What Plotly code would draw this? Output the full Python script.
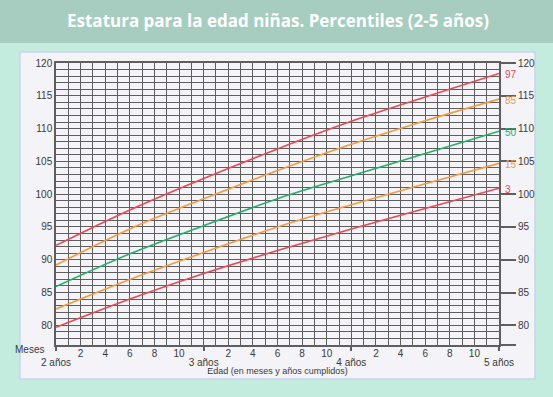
import plotly.graph_objects as go

months = [0, 6, 12, 18, 24, 30, 36]
p97 = [92.2, 97.6, 102.4, 106.9, 111.1, 114.8, 118.4]
p85 = [89.2, 94.7, 99.3, 103.6, 107.6, 111.2, 114.5]
p50 = [85.9, 90.9, 95.2, 99.3, 102.8, 106.2, 109.6]
p15 = [82.5, 87.0, 91.1, 95.0, 98.4, 101.6, 104.7]
p3 = [79.7, 84.0, 87.9, 91.4, 94.7, 97.8, 100.9]

series_names = ["97", "85", "50", "15", "3"]
series_vals = [p97, p85, p50, p15, p3]
series_colors = ["#e84a55", "#f29a45", "#26ad6a", "#f29a45", "#e84a55"]

month_ticks = list(range(0, 37))
month_text = ["" if (m % 12 == 0 or m % 2 == 1) else str(m % 12) for m in month_ticks]
year_ticks = [0, 12, 24, 36]
year_text = ["2 años", "3 años", "4 años", "5 años"]
cm_ticks = list(range(77, 121))
cm_text = [str(v) if v % 5 == 0 else "" for v in cm_ticks]
right_ticks = [77] + list(range(80, 121, 5))
right_text = [""] + [str(v) for v in range(80, 121, 5)]

FONT = "Liberation Sans Narrow, Liberation Sans, Arial Narrow, sans-serif"
GRID = "#5e5e5e"
TXT = "#3a3a3a"

fig = go.Figure()
for name, vals, col in zip(series_names, series_vals, series_colors):
    fig.add_trace(go.Scatter(x=months, y=vals, mode="lines", line=dict(color=col, width=1.6, shape="spline"),
                             showlegend=False, hoverinfo="skip"))
    fig.add_annotation(x=months[-1], y=vals[-1], text=name, showarrow=False, xanchor="left",
                       yanchor="middle", xshift=4, yshift=-1, font=dict(family=FONT, size=10, color=col))

fig.add_trace(go.Scatter(x=[0], y=[77], xaxis="x2", yaxis="y2", mode="markers",
                         marker=dict(opacity=0), showlegend=False, hoverinfo="skip"))

W, H = 553, 397
L, R, T, B = 56, 54, 63, 52
pw, ph = W - L - R, H - T - B


def px(x):
    return (x - L) / pw


def py(y):
    return (H - B - y) / ph


fig.add_shape(type="rect", xref="paper", yref="paper", x0=px(20), x1=px(535), y0=py(379), y1=py(52),
              fillcolor="#f3f3f8", line=dict(color="#c9d3ea", width=1.5), layer="below")
fig.add_shape(type="rect", xref="paper", yref="paper", x0=px(-5), x1=px(560), y0=py(43), y1=py(-5),
              fillcolor="#a6cdbf", line=dict(width=0), layer="below")

fig.add_annotation(xref="paper", yref="paper", x=px(46), y=py(349), text="Meses", showarrow=False,
                   xanchor="right", yanchor="middle", font=dict(family=FONT, size=10, color=TXT))

fig.update_layout(
    width=W, height=H,
    margin=dict(l=L, r=R, t=T, b=B, autoexpand=False),
    paper_bgcolor="#c3ecdf",
    plot_bgcolor="#f3f3f8",
    title=dict(text="<b>Estatura para la edad niñas. Percentiles (2-5 años)</b>", x=278 / W, xanchor="center",
               y=1 - 21 / H, yanchor="middle", font=dict(family="Open Sans, sans-serif", size=17, color="white")),
    xaxis=dict(range=[0, 36], tickmode="array", tickvals=month_ticks, ticktext=month_text, ticks="",
               showgrid=True, gridcolor=GRID, gridwidth=1.3, automargin=False, ticklabelstandoff=-2,
               showline=True, linecolor=GRID, linewidth=1.5, mirror=True, zeroline=False,
               tickfont=dict(family=FONT, size=10, color=TXT),
               title=dict(text="Edad (en meses y años cumplidos)", standoff=10,
                          font=dict(family=FONT, size=9, color=TXT))),
    xaxis2=dict(range=[0, 36], overlaying="x", side="bottom", anchor="y", tickmode="array", tickvals=year_ticks,
                ticktext=year_text, ticks="outside", ticklen=5, tickwidth=1.5, tickcolor=GRID,
                showgrid=False, zeroline=False, ticklabelstandoff=3, automargin=False,
                tickfont=dict(family=FONT, size=10, color=TXT)),
    yaxis=dict(range=[77, 120], tickmode="array", tickvals=cm_ticks, ticktext=cm_text, ticks="",
               showgrid=True, gridcolor=GRID, gridwidth=1.3, automargin=False,
               showline=True, linecolor=GRID, linewidth=1.5, mirror=True, zeroline=False,
               tickfont=dict(family=FONT, size=10, color=TXT)),
    yaxis2=dict(range=[77, 120], overlaying="y", side="right", anchor="x", tickmode="array",
                tickvals=right_ticks, ticktext=right_text, ticks="outside", ticklen=16, tickwidth=1.5,
                tickcolor=GRID, showgrid=False, zeroline=False, automargin=False,
                tickfont=dict(family=FONT, size=10, color=TXT)),
)

fig.write_html("out.html", config={"displayModeBar": False},
               post_script="document.body.style.margin='0';document.body.style.padding='0';")
